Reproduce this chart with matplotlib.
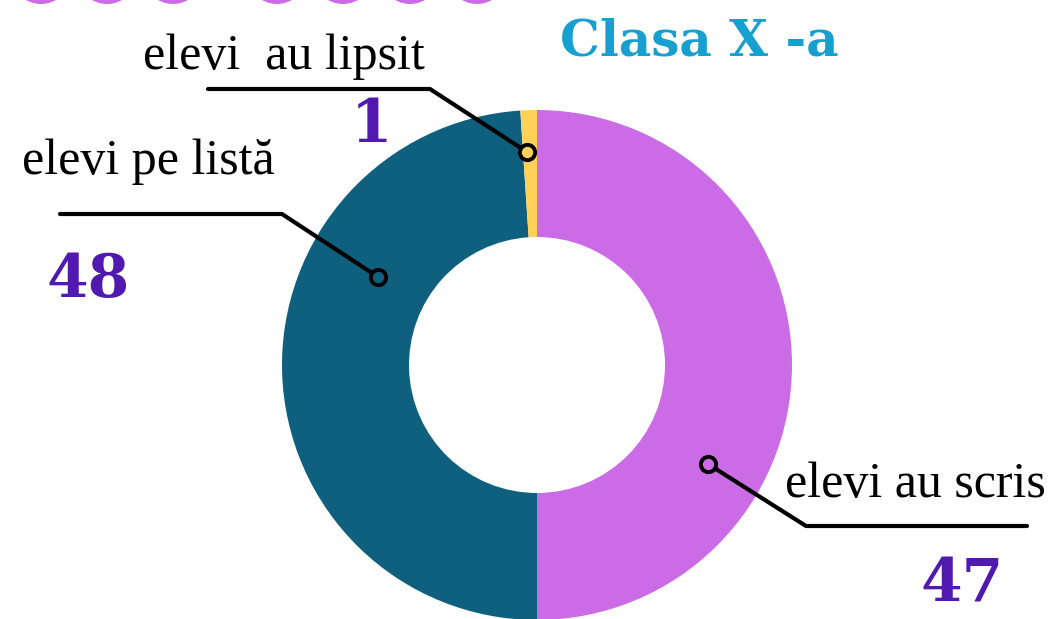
import matplotlib.pyplot as plt
from matplotlib.patches import Circle

# date
etichete = ["elevi au scris", "elevi pe listă", "elevi  au lipsit"]
numere = ["47", "48", "1"]
felii = [48, 47, 1]   # asa cum apar in desen (violet = jumatate)
culori = ["#CB6CE6", "#0F607E", "#FFD159"]
titlu = "Clasa X -a"

W, H = 1057, 619
fig = plt.figure(figsize=(W / 100, H / 100), dpi=100)
ax = fig.add_axes([0, 0, 1, 1])

def Y(y):
    return H - y

cx, cy, R = 537, 365, 255
ax.pie(felii, colors=culori, startangle=90, counterclock=False,
       center=(cx, Y(cy)), radius=R,
       wedgeprops=dict(width=127, linewidth=0), frame=True)
ax.set_xlim(0, W)
ax.set_ylim(0, H)
ax.set_aspect("equal")
ax.axis("off")

# cercuri decorative sus
for x in [41, 107, 173, 277, 343, 410, 477]:
    ax.add_patch(Circle((x, Y(-26)), 30, color="#CB6CE6", lw=0))

ax.text(560, Y(55), titlu, fontsize=36, fontweight="bold", family="DejaVu Serif",
        color="#179FCF", ha="left", va="baseline")

# linii de legatura
linii = [
    [(708, 464), (806, 526), (1027, 526)],
    [(378, 277), (282, 214), (60, 214)],
    [(527, 152), (430, 89), (208, 89)],
]
for k, pts in enumerate(linii):
    xs = [p[0] for p in pts]
    ys = [Y(p[1]) for p in pts]
    ax.plot(xs, ys, color="black", lw=3, solid_capstyle="round", zorder=5)
    ax.plot(xs[0], ys[0], "o", ms=11, mfc=culori[k], mec="black", mew=2.8, zorder=6)

# texte
pozitii_et = [(915, 497), (148, 174), (284, 69)]
pozitii_nr = [(962, 602), (88, 297), (372, 142)]
for k in range(3):
    x, y = pozitii_et[k]
    ax.text(x, Y(y), etichete[k], fontsize=36, family="Liberation Serif",
            ha="center", va="baseline", color="black")
    x, y = pozitii_nr[k]
    ax.text(x, Y(y), numere[k], fontsize=43, fontweight="bold", family="DejaVu Serif",
            ha="center", va="baseline", color="#5119B0")

fig.savefig("out.png", dpi=100)
